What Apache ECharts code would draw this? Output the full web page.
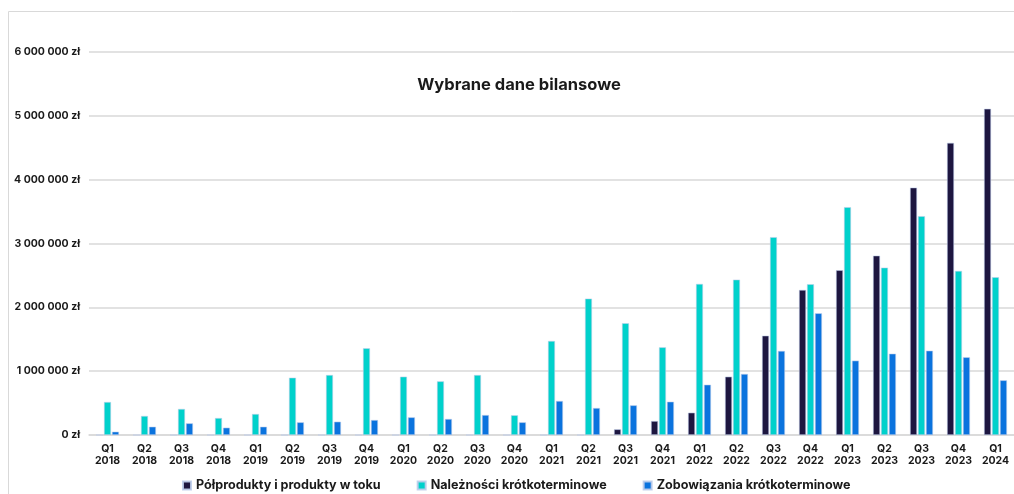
<!DOCTYPE html>
<html>
<head>
<meta charset="utf-8">
<script src="https://cdn.jsdelivr.net/npm/echarts@6/dist/echarts.min.js"></script>
<style>
  html, body { margin: 0; padding: 0; background: #fff; }
  #chart { width: 1014px; height: 494px; }
</style>
</head>
<body>
<div id="chart"></div>
<script>
const quarters = [
  'Q1\n2018', 'Q2\n2018', 'Q3\n2018', 'Q4\n2018',
  'Q1\n2019', 'Q2\n2019', 'Q3\n2019', 'Q4\n2019',
  'Q1\n2020', 'Q2\n2020', 'Q3\n2020', 'Q4\n2020',
  'Q1\n2021', 'Q2\n2021', 'Q3\n2021', 'Q4\n2021',
  'Q1\n2022', 'Q2\n2022', 'Q3\n2022', 'Q4\n2022',
  'Q1\n2023', 'Q2\n2023', 'Q3\n2023', 'Q4\n2023',
  'Q1\n2024',
];

// Półprodukty i produkty w toku
const polprodukty = [
  0, 0, 0, 0,
  0, 0, 0, 0,
  0, 0, 0, 0,
  0, 0, 89000, 219000,
  350000, 914000, 1556000, 2273000,
  2581000, 2810000, 3876000, 4577000,
  5110000,
];

// Należności krótkoterminowe
const naleznosci = [
  517000, 298000, 408000, 266000,
  329000, 898000, 940000, 1359000,
  914000, 841000, 940000, 309000,
  1473000, 2137000, 1751000, 1374000,
  2367000, 2434000, 3099000, 2362000,
  3569000, 2622000, 3428000, 2571000,
  2472000,
];

// Zobowiązania krótkoterminowe
const zobowiazania = [
  52000, 130000, 183000, 115000,
  130000, 199000, 209000, 235000,
  277000, 251000, 313000, 199000,
  533000, 423000, 465000, 522000,
  788000, 956000, 1317000, 1907000,
  1165000, 1274000, 1321000, 1218000,
  857000,
];

const FONT = 'Inter, "Open Sans", sans-serif';
const colors = ['#1d1640', '#00d1cb', '#0a73de'];

const formatZl = (v) =>
  String(v).replace(/\B(?=(\d{3})+(?!\d))/g, ' ') + ' zł';

const barSeries = (name, data) => ({
  name,
  type: 'bar',
  barWidth: 7,
  barGap: '14%',
  data,
  itemStyle: {
    borderColor: 'rgba(190,205,235,0.9)',
    borderWidth: 0.6,
  },
});

const chart = echarts.init(document.getElementById('chart'));

chart.setOption({
  color: colors,
  animation: false,
  textStyle: { fontFamily: FONT },
  title: {
    text: 'Wybrane dane bilansowe',
    left: 514,
    top: 72,
    textAlign: 'center',
    textStyle: {
      fontFamily: FONT,
      fontSize: 16.5,
      fontWeight: 700,
      color: '#1a1a1a',
    },
  },
  graphic: [
    {
      type: 'rect',
      shape: { x: 8.5, y: 11.5, width: 1020, height: 500 },
      style: { fill: 'none', stroke: '#d9d9d9', lineWidth: 1 },
      silent: true,
      z: -1,
    },
  ],
  legend: {
    left: 177,
    top: 474,
    icon: 'rect',
    itemWidth: 8,
    itemHeight: 8,
    itemGap: 36,
    textStyle: {
      fontFamily: FONT,
      fontSize: 12.6,
      fontWeight: 700,
      color: '#1a1a1a',
    },
  },
  grid: {
    left: 89,
    right: 0,
    top: 52,
    bottom: 59,
  },
  xAxis: {
    type: 'category',
    data: quarters,
    axisTick: { show: false },
    axisLine: { lineStyle: { color: '#d9d9d9', width: 1.5 } },
    axisLabel: {
      interval: 0,
      margin: 8,
      fontFamily: FONT,
      fontSize: 10.5,
      fontWeight: 700,
      lineHeight: 12,
      color: '#1a1a1a',
    },
  },
  yAxis: {
    type: 'value',
    min: 0,
    max: 6000000,
    interval: 1000000,
    axisLabel: {
      margin: 9,
      fontFamily: FONT,
      fontSize: 10.5,
      fontWeight: 700,
      color: '#1a1a1a',
      formatter: formatZl,
    },
    splitLine: { lineStyle: { color: '#d9d9d9', width: 1.5 } },
  },
  series: [
    barSeries('Półprodukty i produkty w toku', polprodukty),
    barSeries('Należności krótkoterminowe', naleznosci),
    barSeries('Zobowiązania krótkoterminowe', zobowiazania),
  ],
});
</script>
</body>
</html>
